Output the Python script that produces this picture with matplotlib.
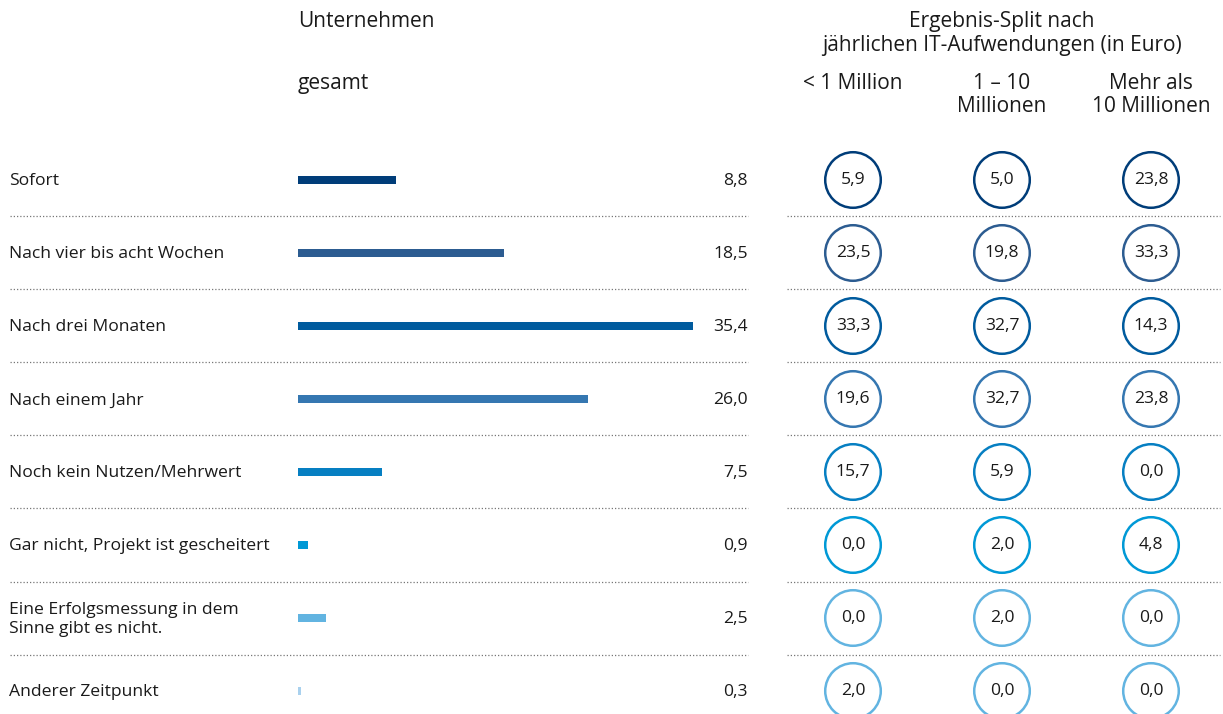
import matplotlib
matplotlib.use("Agg")
import matplotlib.pyplot as plt
import numpy as np

plt.rcParams['font.family'] = ['Open Sans', 'DejaVu Sans']

categories = ["Sofort", "Nach vier bis acht Wochen", "Nach drei Monaten", "Nach einem Jahr",
              "Noch kein Nutzen/Mehrwert", "Gar nicht, Projekt ist gescheitert",
              "Eine Erfolgsmessung in dem\nSinne gibt es nicht.", "Anderer Zeitpunkt"]
gesamt = [8.8, 18.5, 35.4, 26.0, 7.5, 0.9, 2.5, 0.3]
unter_1_mio = [5.9, 23.5, 33.3, 19.6, 15.7, 0.0, 0.0, 2.0]
mio_1_10 = [5.0, 19.8, 32.7, 32.7, 5.9, 2.0, 2.0, 0.0]
ueber_10_mio = [23.8, 33.3, 14.3, 23.8, 0.0, 4.8, 0.0, 0.0]
split_labels = ["< 1 Million", "1 – 10\nMillionen", "Mehr als\n10 Millionen"]
bar_colors = ['#003d79', '#2c5c91', '#005b9e', '#3577b1', '#067fc2', '#0099d6', '#62b4e1', '#a9d1ee']
circle_colors = ['#003d79', '#2c5c91', '#005b9e', '#3577b1', '#067fc2', '#0099d6', '#62b4e1', '#62b4e1']

W, H = 1223, 714
fig = plt.figure(figsize=(W / 100, H / 100), dpi=100)
fig.patch.set_facecolor('white')

n = len(categories)
rows = np.arange(n)
y0_px, step_px = 180, 73
ytop = -y0_px / step_px
ybot = (H - y0_px) / step_px

ax = fig.add_axes([0, 0, 1, 1])
ax.set_xlim(0, W)
ax.set_ylim(ybot, ytop)
ax.axis('off')

bx_left, bx_right = 298, 760
px_per_unit = 11.16
bx = fig.add_axes([bx_left / W, 0, (bx_right - bx_left) / W, 1])
bx.set_xlim(0, (bx_right - bx_left) / px_per_unit)
bx.set_ylim(ybot, ytop)
bx.axis('off')
bar_h = 8 / step_px
bx.barh(rows, gesamt, height=bar_h, color=bar_colors, left=0)

txt = '#1a1a1a'
fs = 12.6
for i, (cat, v) in enumerate(zip(categories, gesamt)):
    ax.text(9, i + 0.02, cat, ha='left', va='center', fontsize=fs, color=txt, linespacing=1.3)
    ax.text(748, i + 0.02, f"{v:.1f}".replace('.', ','), ha='right', va='center', fontsize=fs, color=txt)

for i in range(n - 1):
    yy = i + 0.5
    ax.plot([10, 748], [yy, yy], color='#777777', lw=0.9, ls=(0, (1, 1.6)))
    ax.plot([787, 1220], [yy, yy], color='#777777', lw=0.9, ls=(0, (1, 1.6)))

col_x = [853, 1002, 1151]
for cx, series in zip(col_x, [unter_1_mio, mio_1_10, ueber_10_mio]):
    ax.scatter([cx] * n, rows, s=1600, facecolors='white', edgecolors=circle_colors,
               linewidths=1.8, zorder=3)
    for i, v in enumerate(series):
        ax.text(cx, i, f"{v:.1f}".replace('.', ','), ha='center', va='center', fontsize=fs,
                color=txt, zorder=4)

def py(p):
    return (p - y0_px) / step_px

hs = 15
ax.text(298, py(22), "Unternehmen", ha='left', va='center', fontsize=hs, color=txt)
ax.text(298, py(84), "gesamt", ha='left', va='center', fontsize=hs, color=txt)
ax.text(1002, py(22), "Ergebnis-Split nach", ha='center', va='center', fontsize=hs, color=txt)
ax.text(1002, py(46), "jährlichen IT-Aufwendungen (in Euro)", ha='center', va='center',
        fontsize=hs, color=txt)
for cx, lab in zip(col_x, split_labels):
    for k, ln in enumerate(lab.split('\n')):
        ax.text(cx, py(84 + 23 * k), ln, ha='center', va='center', fontsize=hs, color=txt)

fig.savefig('out.png', dpi=100, facecolor='white')
